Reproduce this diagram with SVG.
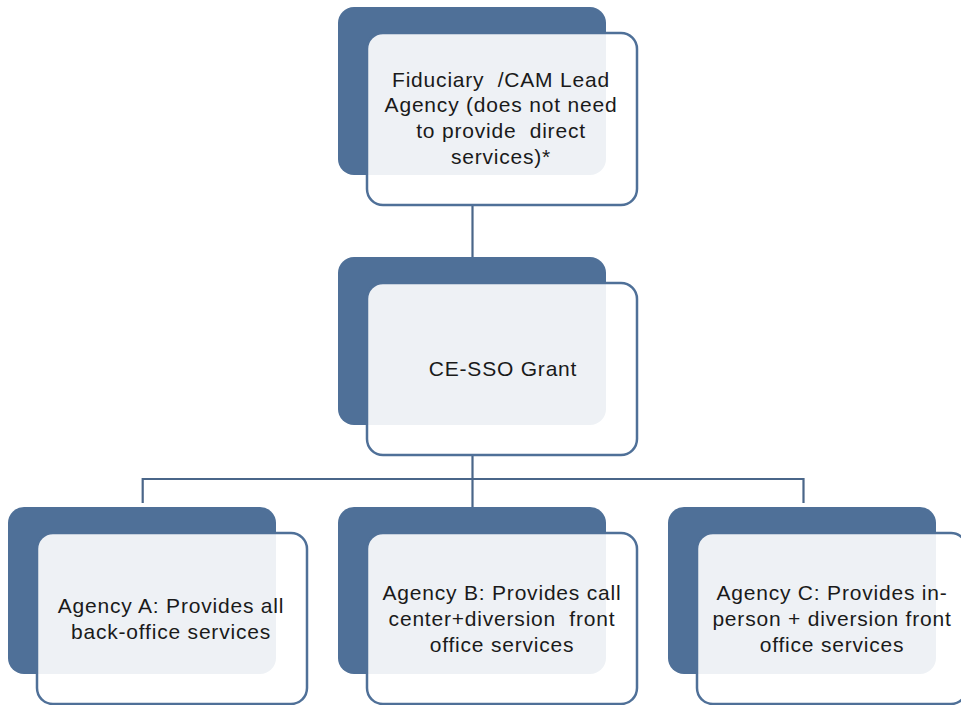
<svg xmlns="http://www.w3.org/2000/svg" width="961" height="705" viewBox="0 0 961 705">
<style>
.back{fill:#4F7098;}
.front{fill:#FFFFFF;fill-opacity:0.9;stroke:#4F7098;stroke-width:2.5;}
.conn{fill:none;stroke:#4A6689;stroke-width:2.2;}
.lbl{font-family:"Liberation Sans",Arial,sans-serif;font-size:21px;letter-spacing:0.8px;fill:#1A1A1A;text-anchor:middle;white-space:pre;}
</style>
<rect width="961" height="705" fill="#FFFFFF"/>
<g id="connectors">
<path class="conn" d="M472.5,205 V257"/>
<path class="conn" d="M472.5,455 V507"/>
<path class="conn" d="M142.7,503 V479 H803.5 V503"/>
</g>
<g id="node-fiduciary">
<rect class="back" x="338" y="7" width="268" height="168" rx="16"/>
<rect class="front" x="367" y="33" width="270" height="172" rx="16"/>
<text class="lbl"><tspan x="501" y="87">Fiduciary  /CAM Lead</tspan><tspan x="501" y="112">Agency (does not need</tspan><tspan x="501" y="138">to provide  direct</tspan><tspan x="501" y="164">services)*</tspan></text>
</g>
<g id="node-cesso">
<rect class="back" x="338" y="257" width="268" height="168" rx="16"/>
<rect class="front" x="367" y="283" width="270" height="172" rx="16"/>
<text class="lbl" x="503" y="376">CE-SSO Grant</text>
</g>
<g id="node-agency-a">
<rect class="back" x="8" y="507" width="268" height="167" rx="16"/>
<rect class="front" x="37" y="533" width="270" height="171" rx="16"/>
<text class="lbl"><tspan x="171" y="613">Agency A: Provides all</tspan><tspan x="171" y="639">back-office services</tspan></text>
</g>
<g id="node-agency-b">
<rect class="back" x="338" y="507" width="268" height="167" rx="16"/>
<rect class="front" x="367" y="533" width="270" height="171" rx="16"/>
<text class="lbl"><tspan x="502" y="600">Agency B: Provides call</tspan><tspan x="502" y="626">center+diversion  front</tspan><tspan x="502" y="652">office services</tspan></text>
</g>
<g id="node-agency-c">
<rect class="back" x="668" y="507" width="268" height="167" rx="16"/>
<rect class="front" x="697" y="533" width="270" height="171" rx="16"/>
<text class="lbl"><tspan x="832" y="600">Agency C: Provides in-</tspan><tspan x="832" y="626">person + diversion front</tspan><tspan x="832" y="652">office services</tspan></text>
</g>
</svg>
